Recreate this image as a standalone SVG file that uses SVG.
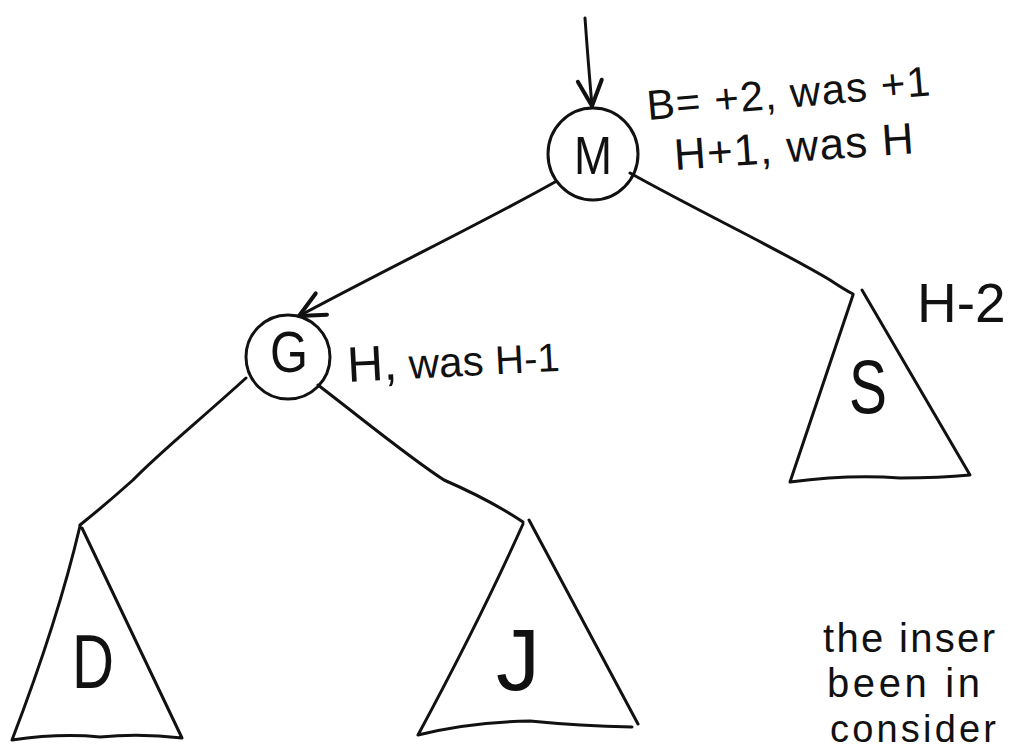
<svg xmlns="http://www.w3.org/2000/svg" width="1013" height="752" viewBox="0 0 1013 752">
<style>
.ln{fill:none;stroke:#111;stroke-width:3;stroke-linecap:round;stroke-linejoin:round}
.t{font-family:"Liberation Sans",Arial,sans-serif;fill:#111}
</style>
<defs>
<marker id="arr" markerUnits="userSpaceOnUse" markerWidth="40" markerHeight="40" viewBox="-25 -15 30 30" refX="0" refY="0" orient="auto" overflow="visible">
<path d="M-19,-9 L0,0 L-19,9" class="ln"/>
</marker>
</defs>
<rect width="1013" height="752" fill="#fff"/>

<g id="connectors">
<path class="ln" d="M585,18 Q588,60 592,106" marker-end="url(#arr)"/>
<path class="ln" d="M555,182 C480,224 400,262 299,316" marker-end="url(#arr)"/>
<path class="ln" d="M630,173 C700,212 780,250 830,280 Q845,290 853,294"/>
<path class="ln" d="M246,378 C200,420 160,452 133,480 Q105,505 80,525"/>
<path class="ln" d="M318,385 C370,425 410,458 444,480 Q490,500 523,522"/>
</g>

<g id="M">
<ellipse class="ln" cx="593" cy="154" rx="45" ry="46"/>
<text class="t" x="593" y="174" font-size="54" text-anchor="middle" textLength="38" lengthAdjust="spacingAndGlyphs">M</text>
</g>
<g id="M-label">
<text class="t" x="648" y="120" font-size="42" transform="rotate(-5 648 120)" textLength="284" lengthAdjust="spacing">B= +2, was +1</text>
<text class="t" x="675" y="170" font-size="44" transform="rotate(-4 675 170)" textLength="240" lengthAdjust="spacing">H+1, was H</text>
</g>

<g id="G">
<circle class="ln" cx="288" cy="357" r="42"/>
<text class="t" x="289" y="372" font-size="58" text-anchor="middle" textLength="38" lengthAdjust="spacingAndGlyphs">G</text>
<text class="t" x="348" y="382" transform="rotate(-3 348 382)"><tspan font-size="50">H,</tspan><tspan font-size="42"> was </tspan><tspan font-size="40">H-1</tspan></text>
</g>

<g id="S">
<path class="ln" d="M853,295 L790,482 Q850,474 900,478 Q940,478 970,475 L862,290"/>
<text class="t" x="868" y="413" font-size="76" text-anchor="middle" textLength="38" lengthAdjust="spacingAndGlyphs">S</text>
<text class="t" x="917" y="322" font-size="55">H-2</text>
</g>

<g id="D">
<path class="ln" d="M80,526 Q58,620 12,740 Q60,733 100,737 Q140,733 182,738 L82,528"/>
<text class="t" x="93" y="688" font-size="76" text-anchor="middle" textLength="42" lengthAdjust="spacingAndGlyphs">D</text>
</g>

<g id="J">
<path class="ln" d="M523,524 Q480,620 418,735 Q470,722 530,721 Q580,726 632,727 M529,520 L638,724"/>
<text class="t" x="518" y="690" font-size="88" text-anchor="middle">J</text>
</g>

<g id="note">
<text class="t" x="823" y="652" font-size="40" textLength="172" lengthAdjust="spacing">the inser</text>
<text class="t" x="827" y="697" font-size="40" textLength="153" lengthAdjust="spacing">been in</text>
<text class="t" x="830" y="742" font-size="38" textLength="166" lengthAdjust="spacing">consider</text>
</g>
</svg>
